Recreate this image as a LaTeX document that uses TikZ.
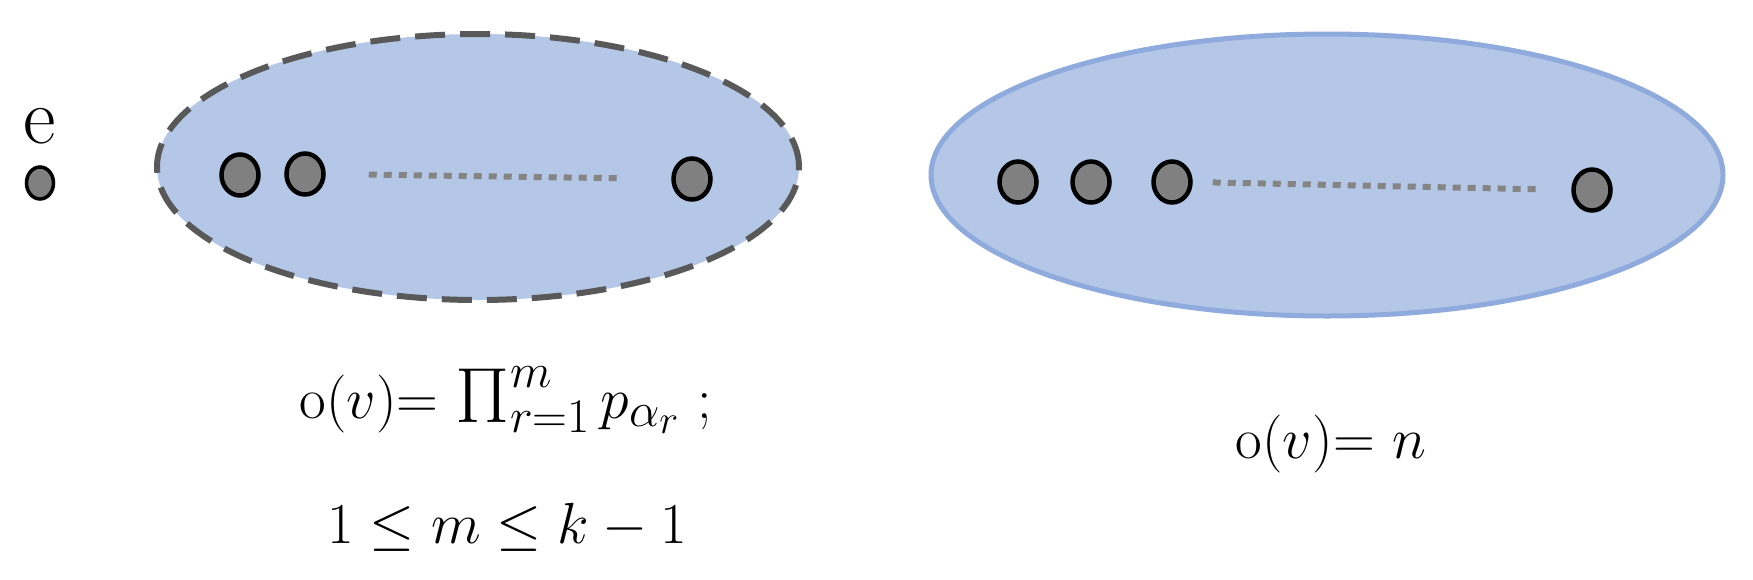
\documentclass[tikz,border=0pt]{standalone}
\usetikzlibrary{shapes.geometric}
\definecolor{blobfill}{HTML}{B4C7E7}
\definecolor{blobline}{HTML}{8FAADC}
\definecolor{dashgray}{HTML}{595959}
\definecolor{dotfill}{HTML}{808080}
\definecolor{dotlinec}{HTML}{858585}
\newcommand{\bigPi}{\mathop{\raisebox{-0.08em}{\scalebox{1.35}{$\Pi$}}}\nolimits}
\tikzset{
  blob/.style={ellipse, fill=blobfill, inner sep=0pt},
  vtx/.style={ellipse, draw=black, line width=4.5pt, fill=dotfill, minimum width=37pt, minimum height=41pt, inner sep=0pt},
  smallvtx/.style={ellipse, draw=black, line width=3.5pt, fill=dotfill, minimum width=27pt, minimum height=32pt, inner sep=0pt},
  dotline/.style={draw=dotlinec, line width=6pt, dash pattern=on 8pt off 7pt},
  lbl/.style={inner sep=0pt, anchor=base, font=\Huge, scale=2.33}
}
\begin{document}
\begin{tikzpicture}[x=1pt,y=-1pt]
\useasboundingbox (0,0) rectangle (1753,579);
% blobs
\node[blob, draw=dashgray, line width=6pt, dash pattern=on 30pt off 15pt, minimum width=642pt, minimum height=266pt] (left) at (478,167) {};
\node[blob, draw=blobline, line width=5pt, minimum width=792pt, minimum height=282pt] (right) at (1327,175) {};
% e vertex
\node[inner sep=0pt, anchor=base, font=\Huge, scale=3.2] (elbl) at (40,143) {e};
\node[smallvtx] (e) at (40,183) {};
% left vertices
\node[vtx] (l1) at (240,175) {};
\node[vtx] (l2) at (305,174) {};
\node[vtx] (l3) at (692,179) {};
\draw[dotline, shorten <=43pt, shorten >=50pt] (l2.east) -- (l3.west);
% right vertices
\node[vtx] (r1) at (1018,182) {};
\node[vtx] (r2) at (1091,182) {};
\node[vtx] (r3) at (1172,182) {};
\node[vtx] (r4) at (1592,190) {};
\draw[dotline, shorten <=20pt, shorten >=30pt] (r3.east) -- (r4.west);
% labels
\node[lbl] (f1) at (506,418) {o$(v)$= $\bigPi_{r=1}^{m}p_{\alpha_r}$ ;};
\node[lbl] (f2) at (507,543) {$1\leq m\leq k-1$};
\node[lbl] (f3) at (1331,458) {o$(v)$= $n$};
\end{tikzpicture}
\end{document}
